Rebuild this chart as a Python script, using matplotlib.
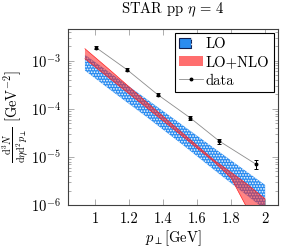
import matplotlib
matplotlib.use("Agg")
import matplotlib.pyplot as plt
from matplotlib.patches import Patch
from matplotlib.lines import Line2D
from matplotlib.legend_handler import HandlerTuple

# --- data ---
pt_band = [0.94, 1.1, 1.3, 1.5, 1.7, 1.8, 1.9, 2.0]

lo_upper = [1.33e-3, 5.23e-4, 1.62e-4, 4.97e-5, 1.52e-5, 8.45e-6, 4.69e-6, 2.61e-6]
lo_lower = [6.26e-4, 2.32e-4, 6.9e-5, 1.97e-5, 5.37e-6, 2.84e-6, 1.51e-6, 8.1e-7]

nlo_upper = [1.78e-3, 5.85e-4, 1.40e-4, 3.45e-5, 8.5e-6, 4.75e-6, 2.61e-6, 1.33e-6]
nlo_lower = [1.10e-3, 3.91e-4, 1.08e-4, 2.95e-5, 7.9e-6, 3.65e-6, 7.87e-7, 3.0e-7]

pt_data = [1.006, 1.188, 1.369, 1.559, 1.729, 1.945]
y_data = [1.87e-3, 6.5e-4, 1.96e-4, 6.5e-5, 2.15e-5, 7.1e-6]
y_err = [1.3e-4, 5e-5, 1.4e-5, 6e-6, 2.5e-6, 1.6e-6]

x_ticks = [1, 1.2, 1.4, 1.6, 1.8, 2]
x_ticklabels = ["1", "1.2", "1.4", "1.6", "1.8", "2"]

BLUE = "#2a8cf0"
RED = "#ff2020"
FS = 10.5
HATCH = "......"

plt.rcParams["font.family"] = "cmr10"
plt.rcParams["mathtext.fontset"] = "cm"
plt.rcParams["axes.formatter.use_mathtext"] = True
plt.rcParams["hatch.linewidth"] = 0.8
plt.rcParams["font.size"] = FS

fig = plt.figure(figsize=(2.82, 2.47), dpi=100)
ax = fig.add_axes([0.241, 0.170, 0.745, 0.713])

# LO band: blue with fine white dots
ax.fill_between(pt_band, lo_lower, lo_upper, facecolor=BLUE, edgecolor="none", zorder=2)
ax.fill_between(pt_band, lo_lower, lo_upper, facecolor="none", edgecolor="white",
                hatch=HATCH, linewidth=0, zorder=2)

# LO+NLO band: translucent red with red edge
ax.fill_between(pt_band, nlo_lower, nlo_upper, facecolor=RED, alpha=0.55,
                edgecolor="none", zorder=3)
ax.plot(pt_band, nlo_upper, color=RED, lw=0.5, zorder=3)
ax.plot(pt_band, nlo_lower, color=RED, lw=0.5, zorder=3)

# data
ax.plot(pt_data, y_data, color="0.55", lw=0.6, zorder=4)
ax.errorbar(pt_data, y_data, yerr=y_err, fmt="o", color="black", ms=1.8,
            elinewidth=0.7, capsize=1.5, capthick=0.7, zorder=5)

ax.set_yscale("log")
ax.set_xlim(0.84, 2.076)
ax.set_ylim(1e-6, 4.6e-3)
ax.set_xticks(x_ticks)
ax.set_xticklabels(x_ticklabels)

ax.tick_params(which="both", direction="in", top=True, right=True, color="0.55", width=0.5)
ax.tick_params(which="major", length=4, pad=5)
ax.tick_params(which="minor", length=2)
for s in ax.spines.values():
    s.set_linewidth(0.8)
    s.set_color("0.25")

ax.set_title(r"STAR pp $\eta\,=\,4$", fontsize=FS, pad=11)
ax.set_xlabel(r"$p_\perp$[GeV]", labelpad=2)
ax.set_ylabel(r"$\frac{\mathrm{d}^3N}{\mathrm{d}\eta\mathrm{d}^2p_\perp}$ [GeV$^{-2}$]", labelpad=1)

lo_handle = (Patch(facecolor=BLUE, edgecolor="#102050", lw=0.8),
             Patch(facecolor="none", edgecolor="white", hatch=HATCH, lw=0))
nlo_handle = Patch(facecolor=RED, alpha=0.65, edgecolor="none")
data_handle = Line2D([], [], color="0.55", lw=0.6, marker="o", ms=1.8,
                     markerfacecolor="black", markeredgecolor="black")
leg = ax.legend([lo_handle, nlo_handle, data_handle], ["LO", "LO+NLO", "data"],
                handler_map={tuple: HandlerTuple(ndivide=None, pad=0)},
                loc="upper right", fancybox=False, framealpha=1, edgecolor="black",
                borderaxespad=0.3, handlelength=1.6, handletextpad=0.2,
                labelspacing=0.3, borderpad=0.3, fontsize=FS)
leg.get_frame().set_linewidth(0.8)

fig.savefig("out.png", dpi=100)
